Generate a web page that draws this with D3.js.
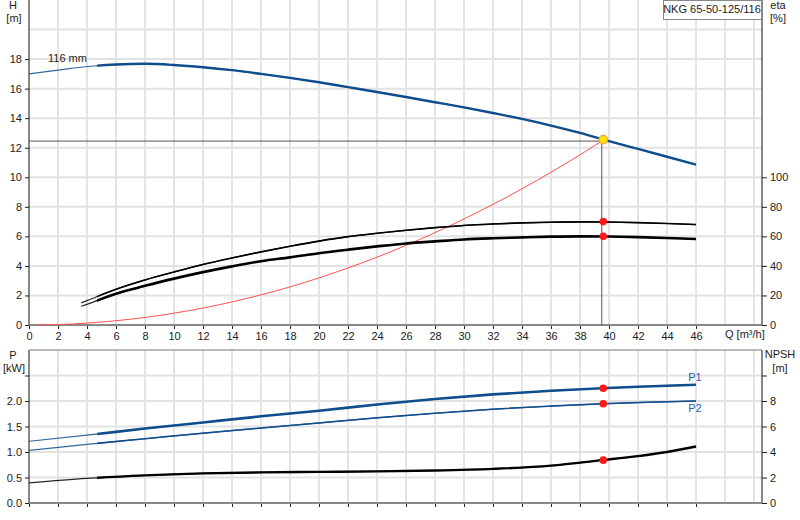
<!DOCTYPE html>
<html>
<head>
<meta charset="utf-8">
<script src="https://cdn.jsdelivr.net/npm/d3@7"></script>
<style>
  body { margin: 0; background: #fff; }
  svg { font-family: "Liberation Sans", Arial, sans-serif; font-size: 11px; }
</style>
</head>
<body>
<svg id="chart" width="800" height="520"></svg>
<script>
// pump curve values
const qHead = [0, 2, 4, 6, 8, 10, 12, 14, 16, 18, 20, 22, 24, 26, 28, 30, 32, 34, 36, 38, 40, 42, 44, 46];
const head = [17.0, 17.25, 17.5, 17.63, 17.68, 17.6, 17.45, 17.25, 17.0, 16.73, 16.43, 16.1, 15.77, 15.43, 15.08, 14.73, 14.35, 13.95, 13.5, 13.0, 12.45, 11.92, 11.39, 10.86];

const qEta = [3.6, 4, 6, 8, 10, 12, 14, 16, 18, 20, 22, 24, 26, 28, 30, 32, 34, 36, 38, 40, 42, 44, 46];
const etaPump = [15, 16.5, 24.2, 30.5, 35.9, 41, 45.4, 49.5, 53.3, 56.8, 59.8, 62.1, 64.1, 65.9, 67.4, 68.4, 69.1, 69.6, 69.8, 69.7, 69.3, 68.7, 68.0];
const etaTotal = [12.7, 14, 21.2, 26.5, 31.4, 35.8, 39.7, 43.2, 45.8, 48.6, 51.0, 53.2, 55.2, 56.6, 57.9, 58.7, 59.3, 59.8, 60.0, 59.9, 59.5, 58.9, 58.2];

const qSys = [0.5, 2, 4, 6, 8, 10, 12, 14, 16, 18, 20, 22, 24, 26, 28, 30, 32, 34, 36, 38, 39.5];
const hSys = [0, 0.03, 0.13, 0.29, 0.51, 0.8, 1.15, 1.56, 2.04, 2.58, 3.19, 3.86, 4.59, 5.39, 6.25, 7.18, 8.17, 9.22, 10.34, 11.52, 12.45];

const qPow = [0, 4, 8, 12, 16, 20, 24, 28, 32, 36, 39.5, 42, 46];
const p1 = [1.21, 1.33, 1.46, 1.58, 1.70, 1.81, 1.93, 2.04, 2.13, 2.20, 2.25, 2.28, 2.32];
const p2 = [1.03, 1.15, 1.26, 1.37, 1.47, 1.57, 1.67, 1.76, 1.84, 1.90, 1.945, 1.97, 2.0];

const qNpsh = [0, 4, 8, 12, 16, 20, 24, 28, 32, 36, 39.5, 42, 44, 46];
const npsh = [1.58, 1.93, 2.17, 2.32, 2.40, 2.44, 2.48, 2.55, 2.68, 2.93, 3.36, 3.68, 4.0, 4.43];

const dutyQ = 39.5;
const dutyH = 12.45;
const dotQ = 39.6;
const dotEta = [70, 60];
const dotP = [2.25, 1.945];
const dotNpsh = 3.36;

const xTicks = d3.range(0, 47, 2);
const hTicks = d3.range(0, 19, 2);
const etaTicks = [0, 20, 40, 60, 80, 100];
const pTicks = [0, 0.5, 1.0, 1.5, 2.0, 2.5];
const npshTicks = [0, 2, 4, 6, 8, 10];

const svg = d3.select("#chart");
const left = 29, right = 762;
const thickFrom = 4.7; // curves are drawn thin below this flow

const x = d3.scaleLinear().domain([0, 50.55]).range([left, right]);
const yH = d3.scaleLinear().domain([0, 22]).range([325, 0]);
const yEta = d3.scaleLinear().domain([0, 220]).range([325, 0]);
const yP = d3.scaleLinear().domain([0, 3]).range([503, 350]);
const yN = d3.scaleLinear().domain([0, 12]).range([503, 350]);

// clip for the thick part of the curves
svg.append("clipPath").attr("id", "thick")
  .append("rect").attr("x", x(thickFrom)).attr("y", 0).attr("width", 800).attr("height", 520);

// ---------- grid ----------
const grid = svg.append("g");
[[0, 325], [350, 503]].forEach(([y0, y1]) => {
  grid.selectAll(null).data(d3.range(2, 51, 2)).enter().append("line")
    .attr("x1", d => x(d)).attr("x2", d => x(d))
    .attr("y1", y0).attr("y2", y1)
    .attr("stroke", "#c9c9c9").attr("stroke-width", 1);
});
grid.selectAll(null).data(d3.range(2, 21, 2)).enter().append("line")
  .attr("x1", left).attr("x2", right)
  .attr("y1", d => yH(d)).attr("y2", d => yH(d))
  .attr("stroke", "#e2e2e2").attr("stroke-width", 2);
grid.selectAll(null).data([0.5, 1.0, 1.5, 2.0, 2.5]).enter().append("line")
  .attr("x1", left).attr("x2", right)
  .attr("y1", d => yP(d)).attr("y2", d => yP(d))
  .attr("stroke", "#e2e2e2").attr("stroke-width", 2);

// ---------- axes ----------
const ax = svg.append("g");
ax.append("g").attr("transform", `translate(${left},0)`)
  .call(d3.axisLeft(yH).tickValues(hTicks).tickFormat(d3.format("d")).tickSize(4).tickSizeOuter(0));
ax.append("g").attr("transform", `translate(${right},0)`)
  .call(d3.axisRight(yEta).tickValues(etaTicks).tickFormat(d3.format("d")).tickSize(5).tickSizeOuter(0));
ax.append("g").attr("transform", "translate(0,325)")
  .call(d3.axisBottom(x).tickValues(xTicks).tickFormat(d3.format("d")).tickSize(4).tickSizeOuter(0));
ax.append("g").attr("transform", `translate(${left},0)`)
  .call(d3.axisLeft(yP).tickValues(pTicks).tickFormat(d => d === 2.5 ? "" : d3.format(".1f")(d)).tickSize(4).tickSizeOuter(0));
ax.append("g").attr("transform", `translate(${right},0)`)
  .call(d3.axisRight(yN).tickValues(npshTicks).tickFormat(d => d === 10 ? "" : d).tickSize(5).tickSizeOuter(0));
ax.append("g").attr("transform", "translate(0,503)")
  .call(d3.axisBottom(x).tickValues(xTicks).tickFormat("").tickSize(4).tickSizeOuter(0));
ax.selectAll(".domain").remove();
ax.selectAll("text").attr("font-family", "Liberation Sans, Arial, sans-serif").attr("font-size", 11).attr("fill", "#222");
ax.selectAll(".tick line").attr("stroke", "#222");

// axis lines
svg.append("line").attr("x1", left).attr("x2", left).attr("y1", 0).attr("y2", 325).attr("stroke", "#111");
svg.append("line").attr("x1", right).attr("x2", right).attr("y1", 0).attr("y2", 325).attr("stroke", "#111");
svg.append("line").attr("x1", left).attr("x2", right).attr("y1", 325).attr("y2", 325).attr("stroke", "#888").attr("stroke-width", 2);
svg.append("line").attr("x1", left).attr("x2", left).attr("y1", 350).attr("y2", 503).attr("stroke", "#111");
svg.append("line").attr("x1", right).attr("x2", right).attr("y1", 350).attr("y2", 503).attr("stroke", "#111");
svg.append("line").attr("x1", left).attr("x2", right).attr("y1", 350).attr("y2", 350).attr("stroke", "#777");
svg.append("line").attr("x1", left).attr("x2", right).attr("y1", 503).attr("y2", 503).attr("stroke", "#888").attr("stroke-width", 2);

// ---------- curves ----------
function curve(qs, vs, yScale, color, thin, thick) {
  const pts = qs.map((q, i) => [q, vs[i]]);
  const line = d3.line().x(d => x(d[0])).y(d => yScale(d[1])).curve(d3.curveMonotoneX);
  svg.append("path").attr("d", line(pts)).attr("fill", "none")
    .attr("stroke", color).attr("stroke-width", thin).attr("opacity", 0.85);
  svg.append("path").attr("d", line(pts)).attr("fill", "none")
    .attr("stroke", color).attr("stroke-width", thick).attr("clip-path", "url(#thick)");
}

// duty lines
svg.append("line").attr("x1", left).attr("x2", x(dutyQ))
  .attr("y1", yH(dutyH)).attr("y2", yH(dutyH)).attr("stroke", "#555");
svg.append("line").attr("x1", x(dutyQ)).attr("x2", x(dutyQ))
  .attr("y1", yH(dutyH)).attr("y2", 325).attr("stroke", "#555");

// system curve
svg.append("path")
  .attr("d", d3.line().x((d, i) => x(qSys[i])).y(d => yH(d)).curve(d3.curveMonotoneX)(hSys))
  .attr("fill", "none").attr("stroke", "#ff5050").attr("stroke-width", 1);

curve(qHead, head, yH, "#0f4d8c", 1.2, 2.4);
curve(qEta, etaPump, yEta, "#000", 1.2, 1.6);
curve(qEta, etaTotal, yEta, "#000", 1.2, 2.6);
curve(qPow, p1, yP, "#0f4d8c", 1.2, 2.6);
curve(qPow, p2, yP, "#0f4d8c", 1.2, 1.5);
curve(qNpsh, npsh, yN, "#000", 1.2, 2.4);

// ---------- points ----------
dotEta.forEach(v => {
  svg.append("circle").attr("cx", x(dotQ)).attr("cy", yEta(v)).attr("r", 3.8).attr("fill", "#ff1a1a");
});
dotP.forEach(v => {
  svg.append("circle").attr("cx", x(dotQ)).attr("cy", yP(v)).attr("r", 3.8).attr("fill", "#ff1a1a");
});
svg.append("circle").attr("cx", x(dotQ)).attr("cy", yN(dotNpsh)).attr("r", 3.8).attr("fill", "#ff1a1a");
svg.append("circle").attr("cx", x(dotQ)).attr("cy", yH(12.55)).attr("r", 4.3)
  .attr("fill", "#ffe000").attr("stroke", "#f4a040").attr("stroke-width", 1.2);

// ---------- labels ----------
const txt = (tx, ty, s, anchor, color) => svg.append("text").attr("x", tx).attr("y", ty)
  .attr("text-anchor", anchor || "start").attr("fill", color || "#222").text(s);

txt(13, 9, "H", "middle");
txt(14, 22, "[m]", "middle");
txt(778, 9, "eta", "middle");
txt(778, 22, "[%]", "middle");
txt(13, 359, "P", "middle");
txt(14, 372, "[kW]", "middle");
txt(780, 358, "NPSH", "middle");
txt(780, 372, "[m]", "middle");
txt(725, 338, "Q [m³/h]");
txt(48, 62, "116 mm");
txt(695, 381, "P1", "middle", "#1f5fa8");
txt(695, 412, "P2", "middle", "#1f5fa8");

svg.append("rect").attr("x", 663.5).attr("y", 0.5).attr("width", 98).attr("height", 19)
  .attr("fill", "#fff").attr("stroke", "#888");
txt(712, 13, "NKG 65-50-125/116", "middle");
</script>
</body>
</html>
